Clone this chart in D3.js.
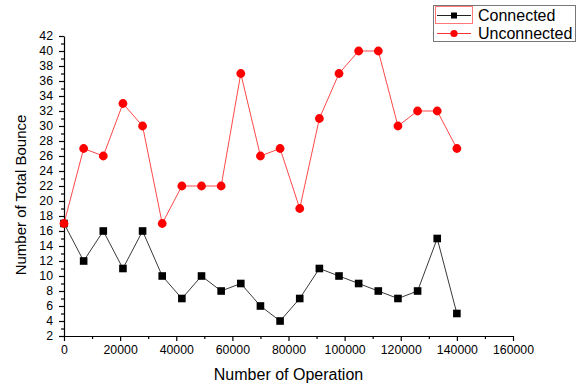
<!DOCTYPE html>
<html>
<head>
<meta charset="utf-8">
<script src="https://cdn.jsdelivr.net/npm/d3@7"></script>
<style>
  body { margin: 0; background: #fff; }
  svg { font-family: "Liberation Sans", Arial, sans-serif; }
</style>
</head>
<body>
<svg id="chart" width="583" height="384"></svg>
<script>
const operations = d3.range(0, 140001, 7000);
const connected = [17, 12, 16, 11, 16, 10, 7, 10, 8, 9, 6, 4, 7, 11, 10, 9, 8, 7, 8, 15, 5];
const unconnected = [17, 27, 26, 33, 30, 17, 22, 22, 22, 37, 26, 27, 19, 31, 37, 40, 40, 30, 32, 32, 27];
const xTicks = [0, 20000, 40000, 60000, 80000, 100000, 120000, 140000, 160000];
const yTicks = d3.range(2, 43, 2);

const svg = d3.select('#chart');
const margin = {top: 36, right: 70, bottom: 48, left: 64};
const width = 449;
const height = 300;

const x = d3.scaleLinear().domain([0, 160000]).range([0, width]);
const y = d3.scaleLinear().domain([2, 42]).range([height, 0]);

const g = svg.append('g')
  .attr('transform', 'translate(' + margin.left + ',' + margin.top + ')');

// minor ticks
g.append('g')
  .attr('transform', 'translate(0,' + height + ')')
  .call(d3.axisBottom(x).tickValues(d3.range(10000, 160000, 20000)).tickSize(3).tickFormat(''))
  .call(a => a.select('.domain').remove());
g.append('g')
  .call(d3.axisLeft(y).tickValues(d3.range(3, 42, 2)).tickSize(3).tickFormat(''))
  .call(a => a.select('.domain').remove());

g.append('g')
  .attr('transform', 'translate(0,' + height + ')')
  .call(d3.axisBottom(x).tickValues(xTicks).tickSize(5).tickSizeOuter(0).tickPadding(4).tickFormat(d3.format('d')));
g.append('g')
  .call(d3.axisLeft(y).tickValues(yTicks).tickSize(5).tickSizeOuter(0).tickPadding(6).tickFormat(d3.format('d')));

g.selectAll('.tick text').attr('font-size', 12.3).attr('fill', '#000')
  .attr('font-family', '"Liberation Sans", Arial, sans-serif');
g.selectAll('.domain, .tick line').attr('stroke', '#000').attr('stroke-width', 1.2);

svg.append('text')
  .attr('x', margin.left + width / 2).attr('y', 380)
  .attr('text-anchor', 'middle').attr('font-size', 16)
  .text('Number of Operation');
svg.append('text')
  .attr('transform', 'translate(26,195) rotate(-90)')
  .attr('text-anchor', 'middle').attr('font-size', 15)
  .text('Number of Total Bounce');

const line = d3.line().x((d, i) => x(operations[i])).y(d => y(d));

g.append('path').datum(connected)
  .attr('fill', 'none').attr('stroke', '#222').attr('stroke-width', 0.9)
  .attr('d', line);
g.selectAll('.sq').data(connected).enter().append('rect')
  .attr('class', 'sq')
  .attr('x', (d, i) => x(operations[i]) - 3.8)
  .attr('y', d => y(d) - 3.8)
  .attr('width', 7.6).attr('height', 7.6)
  .attr('fill', '#000');

g.append('path').datum(unconnected)
  .attr('fill', 'none').attr('stroke', '#f33').attr('stroke-width', 0.9)
  .attr('d', line);
g.selectAll('.dot').data(unconnected).enter().append('circle')
  .attr('class', 'dot')
  .attr('cx', (d, i) => x(operations[i]))
  .attr('cy', d => y(d))
  .attr('r', 4.4)
  .attr('fill', '#f00');

// legend
const legend = svg.append('g');
legend.append('rect')
  .attr('x', 433.5).attr('y', 5.5).attr('width', 142).attr('height', 36)
  .attr('fill', '#fff').attr('stroke', '#777').attr('stroke-width', 1);
legend.append('rect')
  .attr('x', 435.5).attr('y', 6.5).attr('width', 37).attr('height', 17)
  .attr('fill', 'none').attr('stroke', '#f77').attr('stroke-width', 1);
const series = [
  {name: 'Connected', color: '#222', shape: 'square', cy: 15.5},
  {name: 'Unconnected', color: '#f33', shape: 'circle', cy: 33.5}
];
series.forEach(s => {
  legend.append('line')
    .attr('x1', 437).attr('x2', 471).attr('y1', s.cy).attr('y2', s.cy)
    .attr('stroke', s.color).attr('stroke-width', 1);
  if (s.shape === 'square') {
    legend.append('rect').attr('x', 451).attr('y', s.cy - 3).attr('width', 6).attr('height', 6).attr('fill', '#000');
  } else {
    legend.append('circle').attr('cx', 454).attr('cy', s.cy).attr('r', 3.6).attr('fill', '#f00');
  }
  legend.append('text')
    .attr('x', 478).attr('y', s.cy + 5.5)
    .attr('font-size', 16)
    .text(s.name);
});
</script>
</body>
</html>
